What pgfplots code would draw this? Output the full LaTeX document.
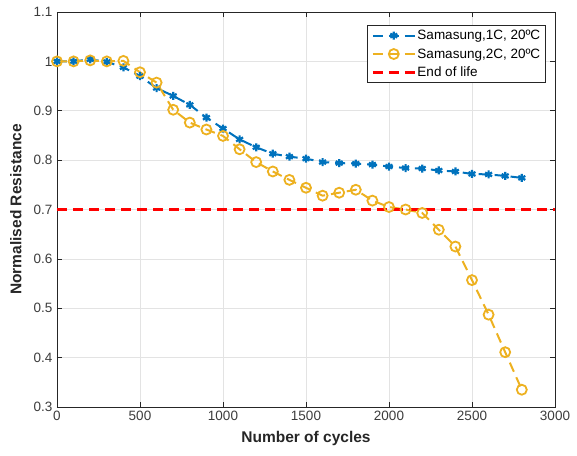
\documentclass[border=0pt]{standalone}
\usepackage{pgfplots}
\pgfplotsset{compat=1.18}
\usepackage{fontspec}
\setmainfont{Liberation Sans}

\definecolor{mblue}{rgb}{0,0.447,0.741}
\definecolor{morange}{rgb}{0.929,0.694,0.125}
\definecolor{eolred}{rgb}{1,0,0}
\definecolor{axgray}{HTML}{262626}
\definecolor{gridgray}{HTML}{E3E3E3}

\begin{document}
\begin{tikzpicture}
\begin{axis}[
  scale only axis,
  width=498pt, height=395pt,
  xmin=0, xmax=3000, ymin=0.3, ymax=1.1,
  xtick={0,500,...,3000},
  ytick={0.3,0.4,...,1.1},
  yticklabels={0.3,0.4,0.5,0.6,0.7,0.8,0.9,1,1.1},
  scaled x ticks=false,
  /pgf/number format/assume math mode=true,
  /pgf/number format/1000 sep={},
  tick label style={font=\fontsize{13.5}{15}\selectfont, text=axgray!90},
  xticklabel style={yshift=-1pt},
  yticklabel style={xshift=-1pt},
  tick align=inside,
  major tick length=5pt,
  tick style={axgray, line width=0.6pt},
  axis line style={axgray, line width=0.7pt},
  grid=major,
  major grid style={gridgray, line width=0.6pt},
  xlabel={\textbf{Number of cycles}},
  ylabel={\textbf{Normalised Resistance}},
  label style={font=\fontsize{15.5}{17}\selectfont, text=axgray},
  xlabel style={at={(axis description cs:0.5,0)}, anchor=north, yshift=-21pt},
  ylabel style={at={(axis description cs:0,0.5)}, anchor=south, yshift=32pt},
  legend style={
    at={(axis cs:2946,1.073)}, anchor=north east,
    font=\fontsize{13.5}{15}\selectfont,
    draw=axgray, line width=0.6pt, fill=white,
    inner xsep=4pt, inner ysep=3pt, row sep=4.5pt,
    nodes={inner sep=1.5pt},
  },
  legend cell align=left,
  legend image code/.code={%
    \draw[mark repeat=2, mark phase=2]
      plot coordinates {(0pt,0pt) (21pt,0pt) (42pt,0pt)};},
]
% 1C cycling
\addplot[color=mblue, line width=2pt, dash pattern=on 10pt off 6pt,
  mark=asterisk, mark size=4pt,
  mark options={solid, line width=2.2pt}]
  coordinates {
  (0,1.000) (100,1.000) (200,1.004) (300,0.999) (400,0.988)
  (500,0.970) (600,0.946) (700,0.930) (800,0.912) (900,0.886)
  (1000,0.864) (1100,0.842) (1200,0.826) (1300,0.813) (1400,0.807)
  (1500,0.803) (1600,0.796) (1700,0.794) (1800,0.793) (1900,0.791)
  (2000,0.787) (2100,0.784) (2200,0.783) (2300,0.779) (2400,0.777)
  (2500,0.772) (2600,0.771) (2700,0.768) (2800,0.764)
  };
\addlegendentry{Samasung,1C, 20ºC}
% 2C cycling
\addplot[color=morange, line width=2pt, dash pattern=on 10pt off 6pt,
  mark=o, mark size=5pt,
  mark options={solid, line width=1.8pt, fill=none}]
  coordinates {
  (0,1.000) (100,1.000) (200,1.002) (300,1.000) (400,1.001)
  (500,0.978) (600,0.957) (700,0.902) (800,0.876) (900,0.862)
  (1000,0.849) (1100,0.822) (1200,0.796) (1300,0.777) (1400,0.760)
  (1500,0.744) (1600,0.728) (1700,0.734) (1800,0.740) (1900,0.718)
  (2000,0.705) (2100,0.700) (2200,0.693) (2300,0.659) (2400,0.625)
  (2500,0.557) (2600,0.487) (2700,0.411) (2800,0.335)
  };
\addlegendentry{Samasung,2C, 20ºC}
% end-of-life threshold
\addplot[color=eolred, draw=eolred, line width=2.4pt,
  dash pattern=on 10pt off 6pt, mark=none]
  coordinates {(0,0.7) (3000,0.7)};
\addlegendentry{End of life}
\end{axis}
\pgfresetboundingbox
\path[use as bounding box] (-57pt,-48pt) rectangle (520pt,407pt);
\end{tikzpicture}
\end{document}
